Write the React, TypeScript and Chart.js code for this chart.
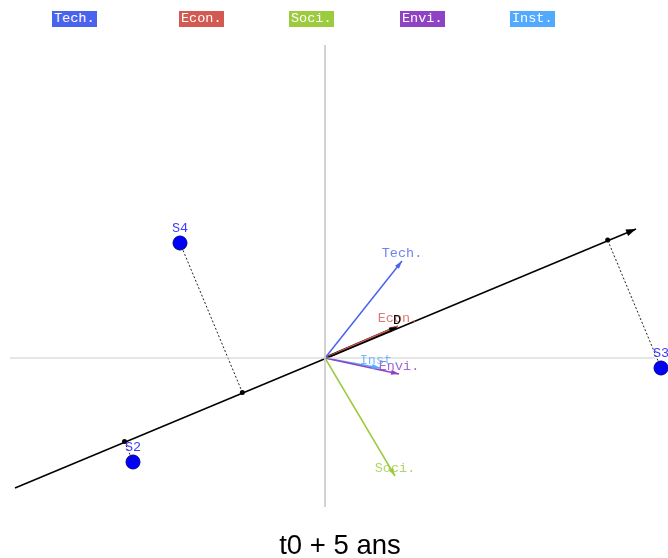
import React, { useEffect, useRef } from "react";
import { Chart, registerables } from "chart.js";

Chart.register(...registerables);

// Criteria (GAIA plane vectors)
const criteria = ["Tech.", "Econ.", "Soci.", "Envi.", "Inst."];
const critX = [77, 73, 70, 74, 55];
const critY = [97, 32, -118, -16, -10];
const critColors = ["#4a63ee", "#d35a52", "#9ccb3e", "#9042c4", "#52aaff"];

// Alternatives
const alternatives = ["S2", "S3", "S4"];
const altX = [-192, 336, -145];
const altY = [-104, -10, 115];

// Decision axis
const decisionX = [-310, 311];
const decisionY = [-130, 129];
const dVector = [72, 31];

// Grey reference axes
const hAxisX = [-315, 330];
const vAxisY = [313, -149];

// Plane range
const xRange = [-325, 343];
const yRange = [-200, 358];

const title = "t0 + 5 ans";

function project(px: number, py: number) {
  const ux = decisionX[1] - decisionX[0];
  const uy = decisionY[1] - decisionY[0];
  const n2 = ux * ux + uy * uy;
  const t = (px * ux + py * uy) / n2;
  return { x: t * ux, y: t * uy };
}

function arrowHead(ctx: CanvasRenderingContext2D, x0: number, y0: number, x1: number, y1: number, color: string, len: number, wid: number) {
  const a = Math.atan2(y1 - y0, x1 - x0);
  ctx.save();
  ctx.fillStyle = color;
  ctx.beginPath();
  ctx.moveTo(x1, y1);
  ctx.lineTo(x1 - len * Math.cos(a) + wid * Math.sin(a), y1 - len * Math.sin(a) - wid * Math.cos(a));
  ctx.lineTo(x1 - len * Math.cos(a) - wid * Math.sin(a), y1 - len * Math.sin(a) + wid * Math.cos(a));
  ctx.closePath();
  ctx.fill();
  ctx.restore();
}

const gaiaPlugin = {
  id: "gaia",
  afterDatasetsDraw(chart: any) {
    const { ctx, scales } = chart;
    const xs = scales.x;
    const ys = scales.y;
    const ox = xs.getPixelForValue(0);
    const oy = ys.getPixelForValue(0);
    ctx.save();
    ctx.font = "13.5px 'Liberation Mono', 'DejaVu Sans Mono', monospace";
    ctx.textAlign = "center";
    ctx.textBaseline = "middle";
    criteria.forEach((name, i) => {
      const x1 = xs.getPixelForValue(critX[i]);
      const y1 = ys.getPixelForValue(critY[i]);
      arrowHead(ctx, ox, oy, x1, y1, critColors[i], 8, 2.5);
      ctx.globalAlpha = 0.8;
      ctx.fillStyle = critColors[i];
      ctx.fillText(name, x1, y1 - 8);
      ctx.globalAlpha = 1;
    });
    // D vector arrow + label
    const dx = xs.getPixelForValue(dVector[0]);
    const dy = ys.getPixelForValue(dVector[1]);
    arrowHead(ctx, ox, oy, dx, dy, "#000", 8, 2.5);
    ctx.fillStyle = "#000";
    ctx.fillText("D", dx, dy - 7);
    // decision axis arrow head
    const hx = xs.getPixelForValue(decisionX[1]);
    const hy = ys.getPixelForValue(decisionY[1]);
    const tx = xs.getPixelForValue(decisionX[0]);
    const ty = ys.getPixelForValue(decisionY[0]);
    arrowHead(ctx, tx, ty, hx, hy, "#000", 10, 3.5);
    // alternative labels
    ctx.fillStyle = "#3b3bff";
    alternatives.forEach((name, i) => {
      const x1 = xs.getPixelForValue(altX[i]);
      const y1 = ys.getPixelForValue(altY[i]);
      ctx.fillText(name, x1, y1 - 15);
    });
    ctx.restore();
  },
};

export default function App() {
  const ref = useRef<HTMLCanvasElement>(null);
  useEffect(() => {
    if (!ref.current) return;
    const datasets: any[] = [];
    // grey axes
    datasets.push({
      data: [{ x: hAxisX[0], y: 0 }, { x: hAxisX[1], y: 0 }],
      showLine: true, borderColor: "#cccccc", borderWidth: 1, pointRadius: 0,
    });
    datasets.push({
      data: [{ x: 0, y: vAxisY[0] }, { x: 0, y: vAxisY[1] }],
      showLine: true, borderColor: "#cccccc", borderWidth: 1, pointRadius: 0,
    });
    // projection dotted lines
    alternatives.forEach((_, i) => {
      const p = project(altX[i], altY[i]);
      datasets.push({
        data: [{ x: altX[i], y: altY[i] }, p],
        showLine: true, borderColor: "#222", borderWidth: 1, borderDash: [2, 2], pointRadius: 0,
      });
    });
    // decision axis
    datasets.push({
      data: [{ x: decisionX[0], y: decisionY[0] }, { x: decisionX[1], y: decisionY[1] }],
      showLine: true, borderColor: "#000", borderWidth: 1.5, pointRadius: 0,
    });
    // criteria vectors
    criteria.forEach((_, i) => {
      datasets.push({
        data: [{ x: 0, y: 0 }, { x: critX[i], y: critY[i] }],
        showLine: true, borderColor: critColors[i], borderWidth: 1.5, pointRadius: 0,
      });
    });
    // D vector
    datasets.push({
      data: [{ x: 0, y: 0 }, { x: dVector[0], y: dVector[1] }],
      showLine: true, borderColor: "#000", borderWidth: 2.5, pointRadius: 0,
    });
    // projection points
    datasets.push({
      data: alternatives.map((_, i) => project(altX[i], altY[i])),
      showLine: false, pointRadius: 2.5, backgroundColor: "#000", borderColor: "#000", borderWidth: 0,
    });
    // alternatives
    datasets.push({
      data: alternatives.map((_, i) => ({ x: altX[i], y: altY[i] })),
      showLine: false, pointRadius: 7, backgroundColor: "#0000ff", borderColor: "#00008a", borderWidth: 1,
    });

    const chart = new Chart(ref.current, {
      type: "scatter",
      data: { datasets },
      options: {
        animation: false,
        responsive: false,
        devicePixelRatio: 1,
        layout: { padding: 0, autoPadding: false },
        plugins: { legend: { display: false }, tooltip: { enabled: false }, title: { display: false } },
        scales: {
          x: { type: "linear", min: xRange[0], max: xRange[1], display: false },
          y: { type: "linear", min: yRange[0], max: yRange[1], display: false },
        },
      },
      plugins: [gaiaPlugin],
    });
    return () => chart.destroy();
  }, []);

  const legendLeft = [52, 179, 289, 400, 510];
  return (
    <div style={{ position: "fixed", left: 0, top: 0, width: 668, height: 558, background: "#fff", overflow: "hidden" }}>
      <canvas ref={ref} width={668} height={558} style={{ position: "absolute", left: 0, top: 0 }} />
      {criteria.map((c, i) => (
        <div
          key={c}
          style={{
            position: "absolute", left: legendLeft[i], top: 11, height: 16, lineHeight: "16px",
            padding: "0 2px", background: critColors[i], color: "#fff",
            fontFamily: "'Liberation Mono', monospace", fontSize: 13.5,
          }}
        >
          {c}
        </div>
      ))}
      <div
        style={{
          position: "absolute", left: 0, top: 529, width: 680, textAlign: "center",
          fontFamily: "'Liberation Sans', 'Open Sans', sans-serif", fontSize: 27.5, lineHeight: "32px", color: "#000",
        }}
      >
        {title}
      </div>
    </div>
  );
}
